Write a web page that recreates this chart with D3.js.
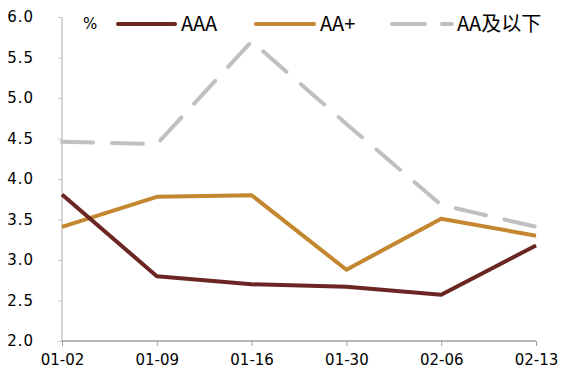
<!DOCTYPE html>
<html><head><meta charset="utf-8">
<script src="https://cdn.jsdelivr.net/npm/d3@7/dist/d3.min.js"></script>
<style>body{margin:0;background:#fff}svg{display:block}</style>
</head><body>
<svg id="c" width="580" height="379"></svg>
<script>
const categories = ["01-02","01-09","01-16","01-30","02-06","02-13"];
const seriesNames = ["AAA","AA+","AA及以下"];
const aaa = [3.81, 2.80, 2.70, 2.67, 2.57, 3.18];
const aaPlus = [3.41, 3.78, 3.80, 2.88, 3.51, 3.30];
const aaBelow = [4.46, 4.43, 5.70, 4.68, 3.68, 3.41];
const yTicks = [2.0, 2.5, 3.0, 3.5, 4.0, 4.5, 5.0, 5.5, 6.0];
const colors = ["#6B2624", "#C4862F", "#C0C0C0"];

const svg = d3.select("#c");
const font = "'Noto Sans CJK SC', 'DejaVu Sans', sans-serif";
const numFont = "'DejaVu Sans', sans-serif";
const x = d3.scalePoint().domain(categories).range([62, 536]);
const y = d3.scaleLinear().domain([2, 6]).range([341, 17]);

// y axis
const ya = svg.append("g").attr("transform","translate(62,0)")
  .call(d3.axisLeft(y).tickValues(yTicks).tickSize(4).tickPadding(24).tickFormat(d3.format(".1f")));
ya.select(".domain").attr("stroke","#C8C8C8").attr("stroke-width",1.5).attr("d","M0,17V341");
ya.selectAll(".tick line").attr("stroke","#C8C8C8").attr("stroke-width",1);
ya.selectAll(".tick text").attr("fill","#000").style("font-size","15px").style("font-family",numFont)
  .style("letter-spacing","1px").attr("text-anchor","end");

// x axis
const xa = svg.append("g").attr("transform","translate(0,341)")
  .call(d3.axisBottom(x).tickSize(5).tickPadding(8));
xa.select(".domain").attr("stroke","#A0A0A0").attr("stroke-width",1.5).attr("d","M62,0H536");
xa.selectAll(".tick line").attr("stroke","#A0A0A0").attr("stroke-width",1);
xa.selectAll(".tick text").attr("fill","#000").style("font-size","15px").style("font-family",numFont);

const line = d3.line().x((d,i)=>x(categories[i])).y(d=>y(d));
const data = [aaa, aaPlus, aaBelow];
[2,1,0].forEach(k=>{
  svg.append("path").datum(data[k]).attr("d", line).attr("fill","none")
    .attr("stroke", colors[k]).attr("stroke-width", 4)
    .attr("stroke-linejoin","round")
    .attr("stroke-linecap", k===2 ? "round" : "butt")
    .attr("stroke-dasharray", k===2 ? "31 19" : null);
});

// legend
svg.append("text").attr("x",83).attr("y",29).text("%").style("font-size","15px").style("font-family",numFont).attr("fill","#000");
const legendItems = [
  {x1:118, x2:175, tx:181},
  {x1:256, x2:314, tx:320},
  {x1:392, x2:452, tx:457}
];
legendItems.forEach((it,k)=>{
  svg.append("line").attr("x1",it.x1).attr("x2",it.x2).attr("y1",24).attr("y2",24)
    .attr("stroke",colors[k]).attr("stroke-width",4).attr("stroke-linecap","round")
    .attr("stroke-dasharray", k===2 ? "33 17" : null);
  svg.append("text").attr("x",it.tx).attr("y",31).text(seriesNames[k])
    .style("font-size","20px").style("font-family",font).attr("fill","#000");
});
</script>
</body></html>
